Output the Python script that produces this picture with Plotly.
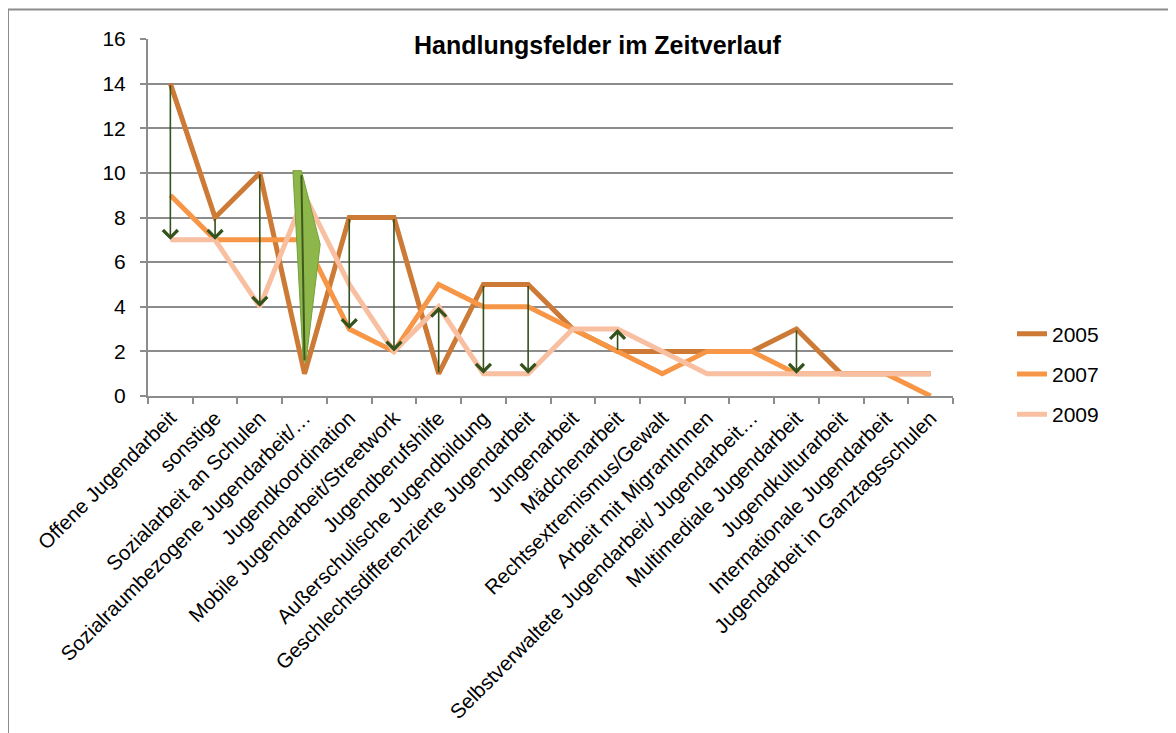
import plotly.graph_objects as go

categories = [
    "Offene Jugendarbeit",
    "sonstige",
    "Sozialarbeit an Schulen",
    "Sozialraumbezogene Jugendarbeit/…",
    "Jugendkoordination",
    "Mobile Jugendarbeit/Streetwork",
    "Jugendberufshilfe",
    "Außerschulische Jugendbildung",
    "Geschlechtsdifferenzierte Jugendarbeit",
    "Jungenarbeit",
    "Mädchenarbeit",
    "Rechtsextremismus/Gewalt",
    "Arbeit mit MigrantInnen",
    "Selbstverwaltete Jugendarbeit/ Jugendarbeit…",
    "Multimediale Jugendarbeit",
    "Jugendkulturarbeit",
    "Internationale Jugendarbeit",
    "Jugendarbeit in Ganztagsschulen",
]
v2005 = [14, 8, 10, 1, 8, 8, 1, 5, 5, 3, 2, 2, 2, 2, 3, 1, 1, 1]
v2007 = [9, 7, 7, 7, 3, 2, 5, 4, 4, 3, 2, 1, 2, 2, 1, 1, 1, 0]
v2009 = [7, 7, 4, 9, 5, 2, 4, 1, 1, 3, 3, 2, 1, 1, 1, 1, 1, 1]
series_names = ["2005", "2007", "2009"]
series_colors = ["#CC7A36", "#F79646", "#F8BFA1"]

# hand-drawn change arrows (category index, from value, to value)
arrow_cats = [0, 1, 2, 4, 5, 6, 7, 8, 10, 14]
arrow_from = [14, 8, 10, 8, 8, 1, 5, 5, 2, 3]
arrow_to = [7, 7, 4, 3, 2, 4, 1, 1, 3, 1]
# green wedge decoration on category 3
wedge_cat = 3
wedge_top = 10.1
wedge_bottom = 1.5

FONT = "Liberation Sans, Arial, sans-serif"

# page body has an 8px offset; plot area on screen spans x 148..953, y 39..396
OFF = 8
PL, PR, PT, PB = 148, 953, 39, 396
PW, PH = PR - PL, PB - PT


def px(x):
    return (x - PL) / PW


def py(y):
    return (PB - y) / PH


fig = go.Figure()
for name, vals, col in zip(series_names, [v2005, v2007, v2009], series_colors):
    fig.add_trace(go.Scatter(
        x=categories, y=vals, mode="lines", name=name, legendgroup=name,
        line=dict(color=col, width=5),
    ))

# green wedge shape (category index coordinates)
c = wedge_cat
mid = (wedge_top + wedge_bottom) / 2 + 1.0
wedge_path = (f"M {c-0.26},{wedge_top} L {c-0.07},{wedge_top} L {c+0.35},{mid} "
              f"L {c+0.03},{wedge_bottom} L {c-0.03},{wedge_bottom+0.1} Z")
fig.add_shape(type="path", path=wedge_path, xref="x", yref="y",
              fillcolor="#8DB64B", line=dict(color="#76A03A", width=1), layer="above")
fig.add_shape(type="line", xref="x", yref="y",
              x0=c-0.07, y0=wedge_top - 0.2, x1=c+0.0, y1=wedge_bottom + 0.1,
              line=dict(color="#3E5A1C", width=2), layer="above")

for ci, f, t in zip(arrow_cats, arrow_from, arrow_to):
    fig.add_annotation(
        x=categories[ci], y=t, ax=categories[ci], ay=f,
        xref="x", yref="y", axref="x", ayref="y",
        text="", showarrow=True, arrowhead=4, arrowsize=1.8,
        arrowwidth=1.6, arrowcolor="#34521C", standoff=0,
    )

# title
fig.add_annotation(
    text="<b>Handlungsfelder im Zeitverlauf</b>", xref="paper", yref="paper",
    x=px(597), y=py(45), xanchor="center", yanchor="middle",
    showarrow=False, font=dict(family=FONT, size=25, color="black"),
    bgcolor="white", borderpad=0,
)

# outer chart frame (top and left edges)
fig.add_shape(type="line", xref="paper", yref="paper",
              x0=px(8), x1=px(1200), y0=py(9.5), y1=py(9.5),
              line=dict(color="#8C8C8C", width=2))
fig.add_shape(type="line", xref="paper", yref="paper",
              x0=px(8), x1=px(8), y0=py(9.5), y1=py(760),
              line=dict(color="#8C8C8C", width=2))

fig.update_layout(
    width=1176, height=733,
    margin=dict(l=PL - OFF, r=1176 - (PR - OFF), t=PT - OFF, b=733 - (PB - OFF),
                autoexpand=False),
    paper_bgcolor="white", plot_bgcolor="white",
    font=dict(family=FONT, size=20, color="black"),
    showlegend=True,
    legend=dict(x=px(1012), y=py(374), xanchor="left", yanchor="middle",
                font=dict(size=21), tracegroupgap=10, bgcolor="rgba(0,0,0,0)"),
    xaxis=dict(
        type="category", range=[-0.5, len(categories) - 0.5],
        tickangle=-45, tickson="boundaries", automargin=False,
        ticks="outside", ticklen=6, tickcolor="#8C8C8C", tickwidth=1.5,
        showline=True, linecolor="#8C8C8C", linewidth=2,
        showgrid=False, tickfont=dict(size=20.5),
    ),
    yaxis=dict(
        range=[0, 16], dtick=2, tick0=0, automargin=False,
        ticks="outside", ticklen=6, tickcolor="#8C8C8C", tickwidth=1.5,
        showline=True, linecolor="#8C8C8C", linewidth=2,
        showgrid=True, gridcolor="#8C8C8C", gridwidth=1.5,
        zeroline=False, tickfont=dict(size=21), ticklabelstandoff=10,
    ),
)

fig.write_html("out.html")
